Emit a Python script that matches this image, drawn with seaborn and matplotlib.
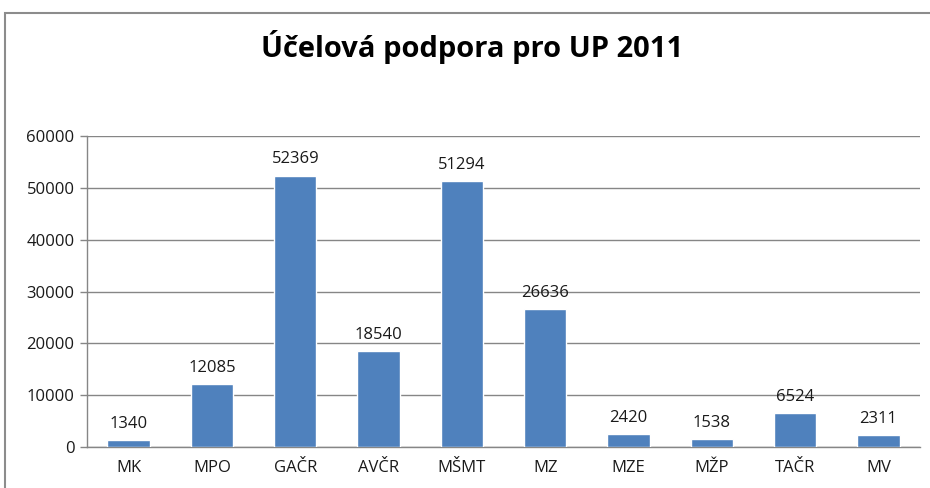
import numpy as np
import pandas as pd
import seaborn as sns
import matplotlib.pyplot as plt
from matplotlib.patches import Rectangle

categories = ["MK", "MPO", "GAČR", "AVČR", "MŠMT", "MZ", "MZE", "MŽP", "TAČR", "MV"]
values = [1340, 12085, 52369, 18540, 51294, 26636, 2420, 1538, 6524, 2311]
title = "Účelová podpora pro UP 2011"

df = pd.DataFrame({"resort": categories, "podpora": values})

sns.set_style("white")
plt.rcParams["font.family"] = ["Open Sans", "DejaVu Sans"]

grid_col = "#868686"
txt_col = "#1a1a1a"
fig = plt.figure(figsize=(9.3, 4.88), dpi=100)
ax = fig.add_axes([87 / 930, 1 - 447 / 488, 833 / 930, 311 / 488])

sns.barplot(data=df, x="resort", y="podpora", color="#4F81BD", width=0.51,
            saturation=1, ax=ax, zorder=3)
ax.bar_label(ax.containers[0], fmt="%d", padding=6, fontsize=12, color=txt_col)

ax.set_xlim(-0.5, len(categories) - 0.5)
ax.set_ylim(0, 60000)
ax.set_yticks(np.arange(0, 60001, 10000))
ax.set_xlabel("")
ax.set_ylabel("")
ax.yaxis.grid(True, color=grid_col, linewidth=1)
ax.set_axisbelow(True)

ax.set_xticks(np.arange(-0.5, len(categories)), minor=True)
ax.tick_params(axis="x", which="major", length=0, pad=9, labelsize=12, labelcolor=txt_col)
ax.tick_params(axis="x", which="minor", length=5, color=grid_col, width=1)
ax.tick_params(axis="y", length=5, color=grid_col, width=1, labelsize=12,
               labelcolor=txt_col, pad=4, left=True)

for s in ["top", "right"]:
    ax.spines[s].set_visible(False)
for s in ["left", "bottom"]:
    ax.spines[s].set_color(grid_col)
    ax.spines[s].set_linewidth(1)

fig.text(472 / 930, 1 - 47 / 488, title, ha="center", va="center",
         fontsize=21, fontweight="bold", color="black")

fig.patches.append(Rectangle((5 / 930, -0.1), 1.2, 1.1 - 13 / 488,
                             transform=fig.transFigure, fill=False,
                             edgecolor="#8c8c8c", linewidth=1.5))

fig.savefig("out.png", dpi=100)
